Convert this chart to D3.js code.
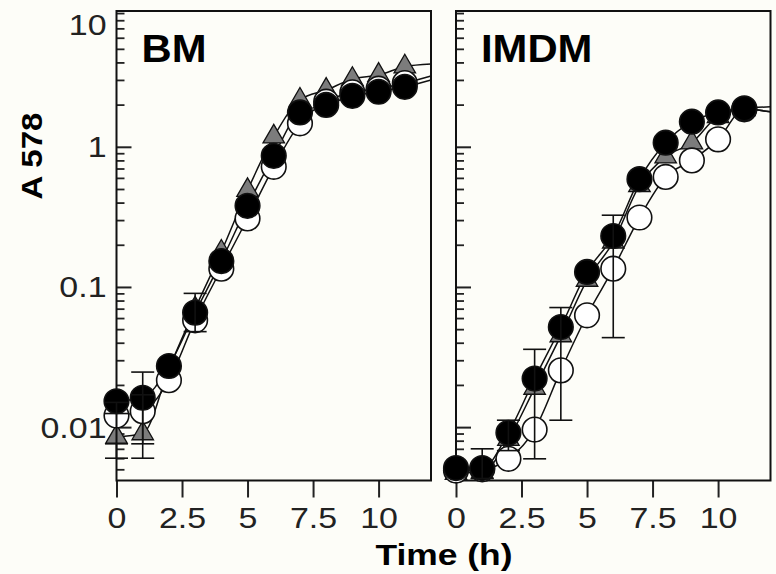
<!DOCTYPE html>
<html><head><meta charset="utf-8">
<script src="https://cdn.jsdelivr.net/npm/d3@7"></script>
<style>body{margin:0;background:#fdfdf8;} svg{display:block}</style>
</head><body><svg id="c" width="776" height="574"></svg>
<script>
// ---- data ----
const times = [0,1,2,3,4,5,6,7,8,9,10,11];
const fitEndTime = 12;

const bmTriangle = [0.0085,0.0090,0.026,0.070,0.178,0.49,1.18,2.16,2.54,3.04,3.25,3.73];
const bmOpen     = [0.0121,0.0130,0.0216,0.0578,0.135,0.308,0.72,1.47,2.10,2.45,2.60,2.85];
const bmFilled   = [0.0153,0.0162,0.0273,0.0656,0.153,0.379,0.862,1.76,1.99,2.31,2.47,2.68];
const bmFitEnd   = [3.9, 3.2, 3.0]; // triangle, open, filled at t=12

const imTriangle = [0.0047,0.0048,0.0082,0.019,0.045,0.112,0.21,0.53,0.85,1.07,1.65,1.85];
const imOpen     = [0.0049,0.0050,0.00594,0.0096,0.0254,0.0628,0.135,0.313,0.61,0.80,1.13,1.85];
const imFilled   = [0.0051,0.0051,0.0091,0.0222,0.0518,0.128,0.231,0.588,1.07,1.51,1.76,1.88];
const imFitEnd   = [1.78, 1.78, 1.93];

const bmErrTime = [0, 0, 1, 1, 3];
const bmErrLow  = [0.0060, 0.0076, 0.0060, 0.0076, 0.048];
const bmErrHigh = [0.0125, 0.0150, 0.0247, 0.0170, 0.090];

const imErrTime = [1, 2, 3, 4, 6];
const imErrLow  = [0.0043, 0.0068, 0.00594, 0.0112, 0.0435];
const imErrHigh = [0.0070, 0.0112, 0.0359, 0.0713, 0.325];

const xTickValues = [0, 2.5, 5, 7.5, 10];
const xTickLabels = ["0", "2.5", "5", "7.5", "10"];
const yTickValues = [0.01, 0.1, 1, 10];
const yTickLabels = ["0.01", "0.1", "1", "10"];
const panelNames = ["BM", "IMDM"];
const xTitle = "Time (h)";
const yTitle = "A 578";

// ---- drawing ----
const FONT = "'Liberation Sans', Arial, Helvetica, sans-serif";
const INK = "#111";
const svg = d3.select("#c");
svg.append("rect").attr("width", 776).attr("height", 574).attr("fill", "#fdfdf8");

const yTop = 11, yBot = 480.5;
const y = d3.scaleLog().domain([0.00416, 9.31]).range([yBot, yTop]);
const [dMin, dMax] = y.domain();
const minorTicks = [];
[0.001, 0.01, 0.1, 1].forEach(dec => {
  for (let m = 2; m < 10; m++) { const v = dec * m; if (v >= dMin && v <= dMax) minorTicks.push(v); }
});
const majorIn = yTickValues.filter(v => v >= dMin && v <= dMax);

const panels = [
  { name: panelNames[0], x0: 116.5, x1: 431, labels: true,
    series: [bmTriangle, bmOpen, bmFilled], ends: bmFitEnd,
    errT: bmErrTime, errLo: bmErrLow, errHi: bmErrHigh },
  { name: panelNames[1], x0: 456, x1: 770.5, labels: false,
    series: [imTriangle, imOpen, imFilled], ends: imFitEnd,
    errT: imErrTime, errLo: imErrLow, errHi: imErrHigh }
];

panels.forEach(p => {
  const x = d3.scaleLinear().domain([0, 12]).range([p.x0, p.x1]);
  const g = svg.append("g");

  // x axis (ticks below frame)
  const xa = g.append("g").attr("transform", `translate(0,${yBot})`)
    .call(d3.axisBottom(x).tickValues(xTickValues)
      .tickFormat((d, i) => xTickLabels[i]).tickSize(17).tickPadding(10));
  xa.select(".domain").remove();
  xa.selectAll("line").attr("stroke", "#222").attr("stroke-width", 2);
  xa.selectAll("text").attr("font-family", FONT).attr("font-size", 29)
    .attr("fill", "#222").attr("transform", "scale(1.17,1)");

  // y axis ticks (inward)
  const ya = g.append("g").attr("transform", `translate(${p.x0},0)`)
    .call(d3.axisRight(y).tickValues(majorIn).tickFormat("").tickSize(15));
  ya.select(".domain").remove();
  ya.selectAll("line").attr("stroke", "#222").attr("stroke-width", 2);
  const ym = g.append("g").attr("transform", `translate(${p.x0},0)`)
    .call(d3.axisRight(y).tickValues(minorTicks).tickFormat("").tickSize(8));
  ym.select(".domain").remove();
  ym.selectAll("line").attr("stroke", "#222").attr("stroke-width", 1.8);

  if (p.labels) {
    yTickValues.forEach((v, i) => {
      const yy = Math.max(y(Math.min(v, dMax)), yTop + 14);
      g.append("text").attr("transform", `translate(${p.x0 - 10},${yy}) scale(1.17,1)`)
        .attr("text-anchor", "end").attr("dy", "0.36em")
        .attr("font-family", FONT).attr("font-size", 29).attr("fill", "#222")
        .text(yTickLabels[i]);
    });
  }

  // frame
  g.append("rect").attr("x", p.x0).attr("y", yTop)
    .attr("width", p.x1 - p.x0).attr("height", yBot - yTop)
    .attr("fill", "none").attr("stroke", INK).attr("stroke-width", 2);

  // fitted lines
  const line = d3.line().x(d => x(d[0])).y(d => y(d[1])).curve(d3.curveMonotoneX);
  p.series.forEach((vals, si) => {
    const pts = times.map((t, i) => [t, vals[i]]).concat([[fitEndTime, p.ends[si]]]);
    g.append("path").datum(pts).attr("d", line)
      .attr("fill", "none").attr("stroke", INK).attr("stroke-width", 1.5);
  });

  // markers: triangles, open circles, filled circles
  const tri = d3.symbol(d3.symbolTriangle, 200);
  g.append("g").selectAll("path").data(times).join("path")
    .attr("d", tri)
    .attr("transform", (t, i) => `translate(${x(t)},${y(p.series[0][i])})`)
    .attr("fill", "#7c7c7c").attr("stroke", INK).attr("stroke-width", 1.3);
  g.append("g").selectAll("circle").data(times).join("circle")
    .attr("cx", t => x(t)).attr("cy", (t, i) => y(p.series[1][i])).attr("r", 12.3)
    .attr("fill", "#ffffff").attr("stroke", INK).attr("stroke-width", 1.6);
  g.append("g").selectAll("circle").data(times).join("circle")
    .attr("cx", t => x(t)).attr("cy", (t, i) => y(p.series[2][i])).attr("r", 12.3)
    .attr("fill", "#000").attr("stroke", INK).attr("stroke-width", 1.6);

  // error bars
  const eg = g.append("g").attr("stroke", INK).attr("stroke-width", 1.6);
  p.errT.forEach((t, i) => {
    const cx = x(t), lo = y(p.errLo[i]), hi = y(p.errHi[i]);
    eg.append("line").attr("x1", cx).attr("x2", cx).attr("y1", lo).attr("y2", hi);
    eg.append("line").attr("x1", cx - 11.5).attr("x2", cx + 11.5).attr("y1", lo).attr("y2", lo);
    eg.append("line").attr("x1", cx - 11.5).attr("x2", cx + 11.5).attr("y1", hi).attr("y2", hi);
  });

  // panel name
  g.append("text").attr("transform", `translate(${p.x0 + 25},62) scale(1.1,1)`)
    .attr("font-family", FONT).attr("font-weight", "bold").attr("font-size", 38)
    .attr("fill", "#000").text(p.name);
});

// axis titles
svg.append("text").attr("transform", "translate(444,565) scale(1.18,1)")
  .attr("text-anchor", "middle").attr("font-family", FONT).attr("font-weight", "bold")
  .attr("font-size", 30).attr("fill", "#000").text(xTitle);
svg.append("text").attr("transform", "translate(42,156) rotate(-90) scale(1.1,1)")
  .attr("text-anchor", "middle").attr("font-family", FONT).attr("font-weight", "bold")
  .attr("font-size", 30).attr("fill", "#000").text(yTitle);
</script></body></html>
